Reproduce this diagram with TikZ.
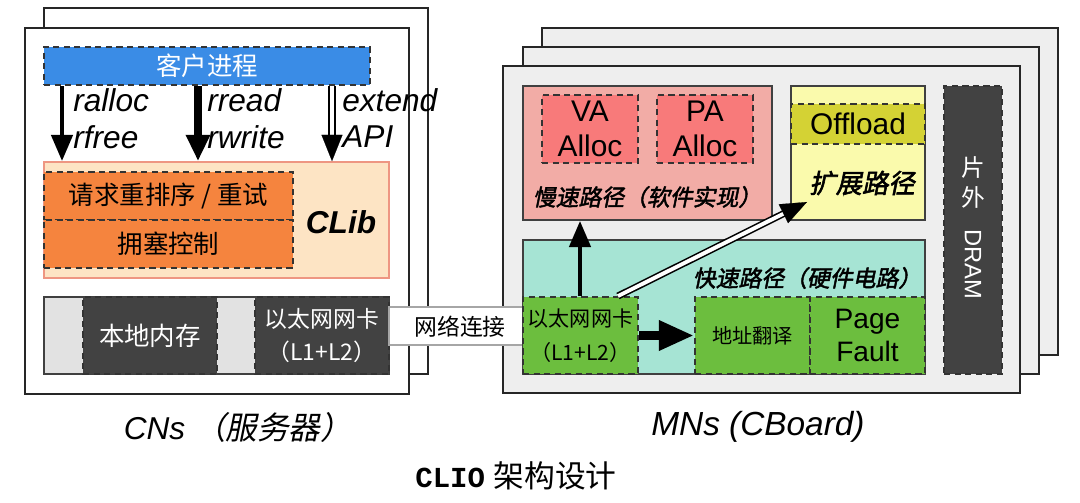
\documentclass[tikz,border=0pt]{standalone}
\usepackage{fontspec}
\setmainfont{Liberation Sans}
\setmonofont{Liberation Mono}
\newfontfamily\cjk{Noto Sans CJK SC}
\newfontfamily\cjkit{Noto Sans CJK SC}[FakeSlant=0.2]
\newfontfamily\cjkbi{Noto Sans CJK SC}[FakeSlant=0.2,FakeBold=2]
\usetikzlibrary{fit,calc,arrows.meta}

\definecolor{clientblue}{RGB}{58,140,230}
\definecolor{clibfill}{RGB}{253,228,196}
\definecolor{clibline}{RGB}{238,150,130}
\definecolor{orangebox}{RGB}{245,132,62}
\definecolor{stripgray}{RGB}{226,226,226}
\definecolor{darkbox}{RGB}{66,66,66}
\definecolor{mngray}{RGB}{238,238,238}
\definecolor{slowpink}{RGB}{242,172,166}
\definecolor{allocred}{RGB}{248,122,122}
\definecolor{extyellow}{RGB}{250,250,172}
\definecolor{offolive}{RGB}{212,210,52}
\definecolor{fastteal}{RGB}{166,228,212}
\definecolor{nicgreen}{RGB}{108,190,62}

\begin{document}
\begin{tikzpicture}[x=0.02cm, y=-0.02cm,
    frame/.style={draw=black!85, line width=1.1pt, fill=white, inner sep=0pt},
    mnframe/.style={frame, fill=mngray},
    solidbox/.style={draw=black!75, line width=1pt, inner sep=0pt},
    dashbox/.style={draw=black!80, line width=1.1pt, dash pattern=on 3.5pt off 2.5pt, inner sep=0pt},
    txt/.style={inner sep=0pt, align=center},
    cn/.style={txt, font=\cjk\fontsize{14.5}{17}\selectfont},
    cnnictxt/.style={txt, font=\cjk\fontsize{13}{19}\selectfont},
    cnbi/.style={txt, font=\cjkbi\fontsize{13}{15}\selectfont},
    sans/.style={txt, font=\fontsize{17}{20}\selectfont},
    lbl/.style={font=\itshape\fontsize{18}{20}\selectfont, inner sep=0pt, anchor=west},
    thinarrow/.style={line width=2.6pt, -{Triangle[length=15pt,width=12pt]}},
    thickarrow/.style={line width=4pt, -{Triangle[length=15pt,width=13pt]}},
    bigarrow/.style={line width=5pt, -{Triangle[length=20pt,width=16pt]}},
    dbl/.style={draw=black, line width=0.9pt, double=white, double distance=2.2pt},
    headonly/.style={line width=0.1pt, -{Triangle[length=15pt,width=12pt]}}]
  \useasboundingbox (0,0) rectangle (1080,503);

  % Draw the CN frames
  \node[frame, fit={(44,8)(428,374)}] (cnback) {};
  \node[frame, fit={(25,28)(409,394)}] (cnfront) {};
  % Draw the client process and the CLib
  \node[dashbox, fill=clientblue, fit={(44,47)(370,85)}] (client) {};
  \node[cn, text=white] (clienttxt) at (client) {客户进程};
  \node[solidbox, draw=clibline, fill=clibfill, fit={(44,162)(389,278)}] (clib) {};
  \node[font=\bfseries\itshape\fontsize{18}{20}\selectfont] (clibtxt) at (341,222) {CLib};
  \node[dashbox, fill=orangebox, fit={(44,172)(293,220)}] (reorder) {};
  \node[cn] (reordertxt) at (reorder) {请求重排序 / 重试};
  \node[dashbox, fill=orangebox, fit={(44,220)(293,268)}] (congest) {};
  \node[cn] (congesttxt) at (congest) {拥塞控制};
  % Draw the memory and the NIC of the CN
  \node[solidbox, fill=stripgray, fit={(44,297)(389,374)}] (cnstrip) {};
  \node[dashbox, fill=darkbox, fit={(83,297)(217,374)}] (localmem) {};
  \node[cn, text=white] (localmemtxt) at (localmem) {本地内存};
  \node[dashbox, fill=darkbox, fit={(255,297)(389,374)}] (cnnic) {};
  \node[cnnictxt, text=white] (cnnictxt) at (cnnic) {以太网网卡\\（L1+L2）};
  % Draw the API calls
  \coordinate (xalloc) at (62,0);
  \coordinate (xread) at (198,0);
  \coordinate (xext) at (332,0);
  \draw[thinarrow] (client.south -| xalloc) -- (clib.north -| xalloc);
  \draw[thickarrow] (client.south -| xread) -- (clib.north -| xread);
  \draw[dbl, shorten >=13pt] (client.south -| xext) -- (clib.north -| xext);
  \draw[headonly] ($(clib.north -| xext)+(0,-3)$) -- (clib.north -| xext);
  \node[lbl] (ralloc) at (73,100) {ralloc};
  \node[lbl] (rfree) at (73,137) {rfree};
  \node[lbl] (rread) at (207,100) {rread};
  \node[lbl] (rwrite) at (207,137) {rwrite};
  \node[lbl] (extend) at (342,100) {extend};
  \node[lbl] (api) at (342,137) {API};

  % Draw the MN frames
  \node[mnframe, fit={(542,28)(1058,355)}] (mnback) {};
  \node[mnframe, fit={(523,47)(1039,374)}] (mnmid) {};
  \node[mnframe, fit={(503,66)(1020,393)}] (mnfront) {};
  % Draw the network link
  \node[draw=black!35, line width=1pt, fill=white, inner sep=0pt, fit={(389,307)(523,345)}] (link) {};
  \node[txt, font=\cjk\fontsize{13}{15}\selectfont] (linktxt) at ($(link)+(4,1)$) {网络连接};
  % Draw the slow path
  \node[solidbox, fill=slowpink, fit={(523,86)(772,220)}] (slow) {};
  \node[dashbox, fill=allocred, fit={(542,95)(638,163)}] (vaalloc) {};
  \node[sans] (vatxt) at (vaalloc) {VA\\Alloc};
  \node[dashbox, fill=allocred, fit={(657,95)(753,163)}] (paalloc) {};
  \node[sans] (patxt) at (paalloc) {PA\\Alloc};
  \node[cnbi] (slowtxt) at (647,197) {慢速路径（软件实现）};
  % Draw the extension path
  \node[solidbox, fill=extyellow, fit={(791,86)(925,220)}] (ext) {};
  \node[dashbox, fill=offolive, fit={(791,104)(925,144)}] (offload) {};
  \node[sans] (offloadtxt) at (offload) {Offload};
  \node[cnbi, font=\cjkbi\fontsize{15}{17}\selectfont] (exttxt) at (862,183) {扩展路径};
  % Draw the fast path
  \node[solidbox, fill=fastteal, fit={(523,240)(925,374)}] (fast) {};
  \node[cnbi] (fasttxt) at (807,278) {快速路径（硬件电路）};
  \node[dashbox, fill=nicgreen, fit={(523,297)(638,374)}] (mnnic) {};
  \node[txt, font=\cjk\fontsize{12}{19}\selectfont] (mnnictxt) at (mnnic) {以太网网卡\\（L1+L2）};
  \node[dashbox, fill=nicgreen, fit={(695,297)(810,374)}] (addr) {};
  \node[txt, font=\cjk\fontsize{11.5}{14}\selectfont] (addrtxt) at (addr) {地址翻译};
  \node[dashbox, fill=nicgreen, fit={(810,297)(925,374)}] (pagefault) {};
  \node[txt, font=\fontsize{16}{19}\selectfont] (pagefaulttxt) at (pagefault) {Page\\Fault};
  % Draw the off-chip DRAM
  \node[dashbox, fill=darkbox, fit={(944,86)(1002,374)}] (dram) {};
  \node[txt, text=white, font=\cjk\fontsize{13.5}{17}\selectfont] (dramtxt) at (973,228) {片\\外\\[-4pt]\rotatebox{-90}{\rmfamily DRAM}};
  % Draw the MN arrows
  \coordinate (xup) at (580,0);
  \coordinate (xdiag) at (618,0);
  \coordinate (extin) at (807,202);
  \draw[thinarrow] (mnnic.north -| xup) -- (slow.south -| xup);
  \draw[bigarrow] (mnnic.east) -- (addr.west);
  \draw[dbl, shorten >=13pt] (mnnic.north -| xdiag) -- (extin);
  \draw[headonly] ($(mnnic.north -| xdiag)!0.95!(extin)$) -- (extin);

  % Draw the captions
  \node[font=\itshape\fontsize{18}{20}\selectfont] (cncap) at (238,427) {CNs {\cjkit （服务器）}};
  \node[font=\itshape\fontsize{19}{21}\selectfont] (mncap) at (758,427) {MNs (CBoard)};
  \node[font=\fontsize{17.5}{20}\selectfont] (title) at (516,476) {{\ttfamily\bfseries\fontsize{16.5}{20}\selectfont CLIO} {\cjk 架构设计}};
\end{tikzpicture}
\end{document}
